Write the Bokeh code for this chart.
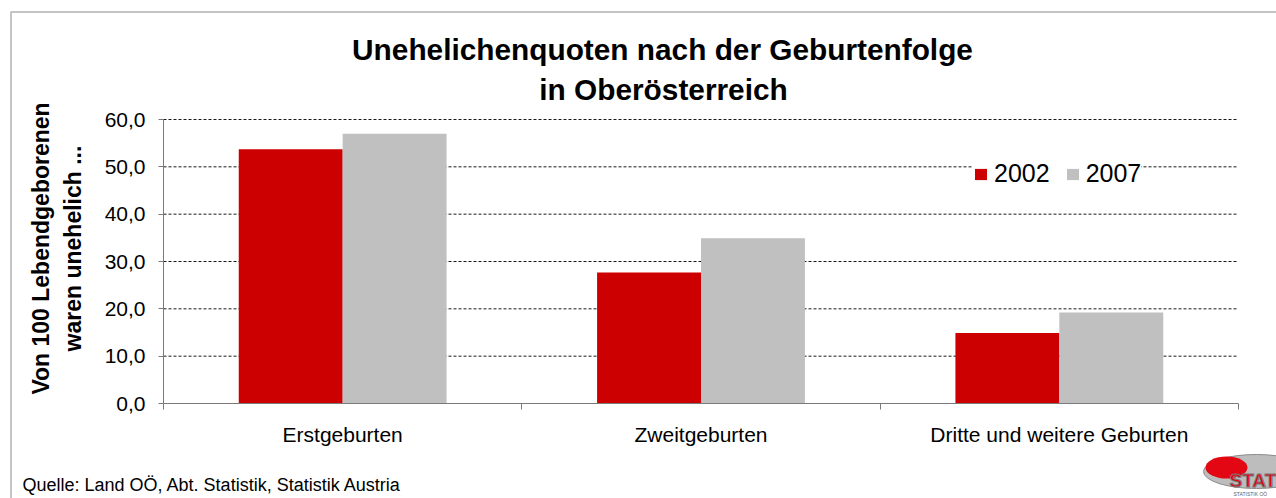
import math
from bokeh.plotting import figure
from bokeh.models import (Range1d, FixedTicker, CustomJSTickFormatter, Legend,
                          LegendItem, Label, BoxAnnotation, ColumnDataSource)
from bokeh.embed import file_html
from bokeh.resources import INLINE

# ---- data ----
categories = ["Erstgeburten", "Zweitgeburten", "Dritte und weitere Geburten"]
series_names = ["2002", "2007"]
values_2002 = [53.7, 27.7, 14.9]
values_2007 = [57.0, 34.9, 19.2]
y_ticks = [0, 10, 20, 30, 40, 50, 60]
title_lines = ["Unehelichenquoten nach der Geburtenfolge", "in Oberösterreich"]
y_label_lines = ["Von 100 Lebendgeborenen", "waren unehelich ..."]
source_text = "Quelle: Land OÖ, Abt. Statistik, Statistik Austria"

RED = "#CC0000"
GRAY = "#C0C0C0"
FONT = "Liberation Sans"

# ---- layout (pixels) ----
W, H = 1276, 498
PLOT_L, PLOT_R, PLOT_T, PLOT_B = 163, 1238, 119, 403

n = len(categories)
y_max = y_ticks[-1]
ppu_x = (PLOT_R - PLOT_L) / n
ppu_y = (PLOT_B - PLOT_T) / y_max
x_start = -PLOT_L / ppu_x
x_end = n + (W - PLOT_R) / ppu_x
y_end = y_max + PLOT_T / ppu_y
y_start = -(H - PLOT_B) / ppu_y


def dx(px):
    return x_start + px / ppu_x


def dy(py):
    return y_end - py / ppu_y


centers = [i + 0.5 for i in range(n)]
bw = 0.29

p = figure(width=W, height=H, output_backend="svg", toolbar_location=None,
           x_range=Range1d(x_start, x_end), y_range=Range1d(y_start, y_end),
           min_border_left=0, min_border_right=0, min_border_top=0,
           min_border_bottom=0, title=None)
p.outline_line_color = None
p.background_fill_color = "white"
p.border_fill_color = "white"
p.xgrid.visible = False
p.ygrid.visible = False

# dashed gridlines over the plot area
grid_src = ColumnDataSource(dict(x0=[0] * (len(y_ticks) - 1), x1=[n] * (len(y_ticks) - 1),
                                 y=y_ticks[1:]))
p.segment(x0="x0", x1="x1", y0="y", y1="y", source=grid_src, line_color="black",
          line_dash="3 2", line_width=1, line_alpha=0.9, level="underlay")

r1 = p.vbar(x=[c - bw / 2 for c in centers], top=values_2002, width=bw,
            fill_color=RED, line_color=None)
r2 = p.vbar(x=[c + bw / 2 for c in centers], top=values_2007, width=bw,
            fill_color=GRAY, line_color=None)

# y axis
p.yaxis.fixed_location = 0
p.yaxis.bounds = (y_ticks[0], y_max)
p.yaxis.ticker = FixedTicker(ticks=y_ticks)
p.yaxis.formatter = CustomJSTickFormatter(code="return tick.toFixed(1).replace('.', ',');")
p.yaxis.axis_line_color = "#7a7a7a"
p.yaxis.major_tick_line_color = "#7a7a7a"
p.yaxis.major_tick_out = 5
p.yaxis.major_tick_in = 0
p.yaxis.minor_tick_line_color = None
p.yaxis.major_label_text_font = FONT
p.yaxis.major_label_text_font_size = "21px"
p.yaxis.major_label_text_color = "black"
p.yaxis.major_label_standoff = 13

# x axis
p.xaxis.fixed_location = 0
p.xaxis.bounds = (0, n)
p.xaxis.ticker = FixedTicker(ticks=centers, minor_ticks=list(range(n + 1)))
p.xaxis.major_label_overrides = {c: cat for c, cat in zip(centers, categories)}
p.xaxis.axis_line_color = "#7a7a7a"
p.xaxis.major_tick_line_color = None
p.xaxis.major_tick_out = 0
p.xaxis.major_tick_in = 0
p.xaxis.minor_tick_line_color = "#7a7a7a"
p.xaxis.minor_tick_out = 6
p.xaxis.minor_tick_in = 0
p.xaxis.major_label_text_font = FONT
p.xaxis.major_label_text_font_size = "21px"
p.xaxis.major_label_text_color = "black"
p.xaxis.major_label_standoff = 13

# legend
legend = Legend(items=[LegendItem(label=series_names[0], renderers=[r1]),
                       LegendItem(label=series_names[1], renderers=[r2])],
                orientation="horizontal", location=(973, 310),
                glyph_width=15, glyph_height=14, label_standoff=6, spacing=15,
                padding=6, margin=0, border_line_color=None,
                background_fill_color="white", background_fill_alpha=1.0,
                label_text_font=FONT, label_text_font_size="25px",
                label_text_color="black")
p.add_layout(legend)

# title (positions are the vertical middles of the text lines)
for (cx, my), line in zip([(662, 49), (663, 89)], title_lines):
    p.add_layout(Label(x=dx(cx), y=dy(my), text=line, text_align="center",
                       text_baseline="middle", text_font=FONT,
                       text_font_size="29.8px", text_font_style="bold",
                       text_color="black"))

# y axis title (two rotated lines)
for mx, line in zip([40.5, 72], y_label_lines):
    p.add_layout(Label(x=dx(mx), y=dy(248), text=line, angle=math.pi / 2,
                       text_align="center", text_baseline="middle",
                       text_font=FONT, text_font_size="23px",
                       text_font_style="bold", text_color="black"))

# source
p.add_layout(Label(x=dx(22), y=dy(484.5), text=source_text, text_align="left",
                   text_baseline="middle", text_font=FONT,
                   text_font_size="18px", text_color="black"))

# logo (partly outside the picture, as in the reference)
p.ellipse(x=dx(1256), y=dy(471), width=106 / ppu_x, height=34 / ppu_y,
          fill_color="#BDBDBD", line_color="#8c8c8c", line_width=1)
p.ellipse(x=dx(1226), y=dy(467), width=42 / ppu_x, height=22 / ppu_y,
          fill_color="#E30613", line_color=None)
p.add_layout(Label(x=dx(1229), y=dy(480), text="STAT", text_align="left",
                   text_baseline="middle", text_font=FONT,
                   text_font_size="19px", text_font_style="bold",
                   text_color="#E30613", text_outline_color="#7a7a7a"))
p.add_layout(Label(x=dx(1233), y=dy(493), text="STATISTIK OÖ", text_align="left",
                   text_baseline="middle", text_font=FONT,
                   text_font_size="5px", text_color="#606060"))

# outer border (its right and bottom edges lie outside the picture)
p.add_layout(BoxAnnotation(left=dx(10.5), right=dx(1300), top=dy(11.5), bottom=dy(530),
                           fill_alpha=0, line_color="#3c3c3c", line_width=2,
                           level="overlay"))

open("out.html", "w").write(file_html(p, INLINE))
